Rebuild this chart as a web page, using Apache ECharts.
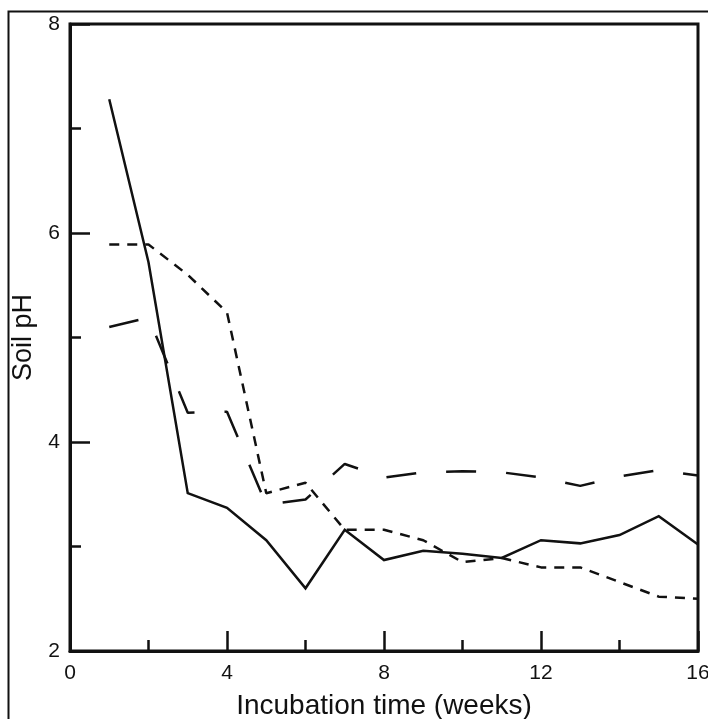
<!DOCTYPE html>
<html>
<head>
<meta charset="utf-8">
<title>Soil pH</title>
<script src="https://cdn.jsdelivr.net/npm/echarts@6.0.0/dist/echarts.min.js"></script>
<style>
	html, body { margin: 0; padding: 0; background: #fff; }
	#chart { width: 708px; height: 719px; }
</style>
</head>
<body>
<div id="chart"></div>
<script>
	// incubation weeks
	var weeks = [1, 2, 3, 4, 5, 6, 7, 8, 9, 10, 11, 12, 13, 14, 15, 16];
	// soil pH, three treatments (solid, short dash, long dash)
	var solidPH = [7.28, 5.72, 3.51, 3.37, 3.06, 2.60, 3.16, 2.87, 2.96, 2.93, 2.89, 3.06, 3.03, 3.11, 3.29, 3.02];
	var shortDashPH = [5.89, 5.89, 5.60, 5.24, 3.51, 3.61, 3.16, 3.16, 3.06, 2.85, 2.89, 2.80, 2.80, 2.66, 2.52, 2.50];
	var longDashPH = [5.10, 5.19, 4.28, 4.29, 3.40, 3.45, 3.79, 3.66, 3.71, 3.72, 3.71, 3.66, 3.58, 3.67, 3.73, 3.68];

	function pairs(vals) {
		var out = [];
		for(var i = 0; i < weeks.length; i++) {
			out.push([weeks[i], vals[i]]);
		}
		return out;
	}

	var font = 'Liberation Sans, Arial, sans-serif';
	var ink = '#111';

	var chart = echarts.init(document.getElementById('chart'), null, { renderer: 'canvas' });

	var option = {
		animation: false,
		backgroundColor: '#fff',
		grid: {
			left: 70,
			right: 10,
			top: 24,
			bottom: 68,
			outerBoundsMode: 'none',
			containLabel: false,
			show: true,
			borderColor: ink,
			borderWidth: 3
		},
		graphic: [{
			type: 'rect',
			left: 6,
			top: 9,
			shape: { width: 740, height: 740 },
			style: { fill: 'none', stroke: ink, lineWidth: 2 }
		}],
		xAxis: {
			type: 'value',
			min: 0,
			max: 16,
			interval: 4,
			name: 'Incubation time (weeks)',
			nameLocation: 'middle',
			nameGap: 41,
			nameTextStyle: { fontFamily: font, fontSize: 28, color: ink },
			axisLine: { lineStyle: { color: ink, width: 3 } },
			axisTick: { inside: true, length: 20, lineStyle: { color: ink, width: 2.5 } },
			minorTick: { show: true, splitNumber: 2, length: 11, lineStyle: { color: ink, width: 2.5 } },
			axisLabel: { margin: 12, fontFamily: font, fontSize: 21, color: ink },
			splitLine: { show: false }
		},
		yAxis: {
			type: 'value',
			min: 2,
			max: 8,
			interval: 2,
			name: 'Soil pH',
			nameLocation: 'middle',
			nameGap: 33,
			nameTextStyle: { fontFamily: font, fontSize: 27, color: ink },
			axisLine: { show: true, lineStyle: { color: ink, width: 3 } },
			axisTick: { inside: true, length: 20, lineStyle: { color: ink, width: 2.5 } },
			minorTick: { show: true, splitNumber: 2, length: 11, lineStyle: { color: ink, width: 2.5 } },
			axisLabel: { margin: 10, fontFamily: font, fontSize: 21, color: ink },
			splitLine: { show: false }
		},
		series: [{
			name: 'solid',
			type: 'line',
			data: pairs(solidPH),
			showSymbol: false,
			lineStyle: { color: ink, width: 2.5, type: 'solid', join: 'miter' }
		}, {
			name: 'short dash',
			type: 'line',
			data: pairs(shortDashPH),
			showSymbol: false,
			lineStyle: { color: ink, width: 2.5, type: [10, 8] }
		}, {
			name: 'long dash',
			type: 'line',
			data: pairs(longDashPH),
			showSymbol: false,
			lineStyle: { color: ink, width: 2.5, type: [30, 30] }
		}]
	};

	chart.setOption(option);
</script>
</body>
</html>
